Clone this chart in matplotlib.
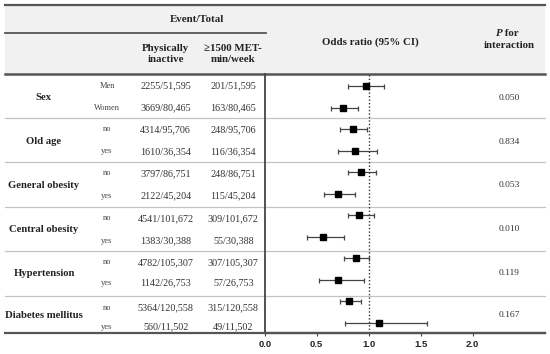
import numpy as np
import matplotlib
matplotlib.use("Agg")
import matplotlib.pyplot as plt

groups = ["Sex", "Old age", "General obesity", "Central obesity",
          "Hypertension", "Diabetes mellitus"]
subgroups = ["Men", "Women", "no", "yes", "no", "yes",
             "no", "yes", "no", "yes", "no", "yes"]
inactive = ["2255/51,595", "3669/80,465", "4314/95,706", "1610/36,354",
            "3797/86,751", "2122/45,204", "4541/101,672", "1383/30,388",
            "4782/105,307", "1142/26,753", "5364/120,558", "560/11,502"]
active = ["201/51,595", "163/80,465", "248/95,706", "116/36,354",
          "248/86,751", "115/45,204", "309/101,672", "55/30,388",
          "307/105,307", "57/26,753", "315/120,558", "49/11,502"]
odds = [0.97, 0.75, 0.85, 0.87, 0.93, 0.70, 0.91, 0.56, 0.88, 0.70, 0.81, 1.10]
ci_low = [0.80, 0.64, 0.72, 0.70, 0.80, 0.57, 0.80, 0.41, 0.76, 0.52, 0.72, 0.77]
ci_high = [1.15, 0.90, 0.98, 1.08, 1.07, 0.87, 1.05, 0.76, 1.00, 0.95, 0.93, 1.56]
p_int = ["0.050", "0.834", "0.053", "0.010", "0.119", "0.167"]
xticks = [0.0, 0.5, 1.0, 1.5, 2.0]

# layout in pixels (figure is 550 x 354)
W, H = 550, 354
sep_y = [74, 117.7, 162.3, 207, 251, 295.7, 333.3]
text_y = [86, 107.7, 129.3, 151.3, 173.3, 196, 218.3, 241, 262.3, 282.7, 307.7, 326.7]
group_y = [97.5, 141.7, 185.2, 229, 273.3, 315]
forest_y = 86 + 21.5 * np.arange(len(odds))
px_per_unit = 104
x0 = 264.7

serif = "Liberation Serif"
fig = plt.figure(figsize=(5.5, 3.54), dpi=100)
bg = fig.add_axes([0, 0, 1, 1])
bg.set_xlim(0, W)
bg.set_ylim(H, 0)
bg.axis("off")

# header
bg.fill_between([5, 545], 5, 74, color="#f1f1f1", lw=0)
bg.plot([5, 545], [5, 5], color="#555555", lw=1.6)
bg.plot([5, 266], [33, 33], color="#555555", lw=1.3)
bg.plot([5, 545], [74, 74], color="#555555", lw=1.8)
for y in sep_y[1:-1]:
    bg.plot([5, 545], [y, y], color="#c4c4c4", lw=0.9)
bg.plot([5, 545], [333.3, 333.3], color="#555555", lw=1.6)

hdr = dict(family=serif, fontweight="bold", fontsize=7.8, color="#222222",
           ha="center", va="center", linespacing=1.15)
bg.text(196.7, 20, "Event/Total", **hdr)
bg.text(165.7, 54, "Physically\ninactive", **hdr)
bg.text(233.3, 54, "\u22651500 MET-\nmin/week", **hdr)
bg.text(370, 41.7, "Odds ratio (95% CI)", **hdr)
bg.text(502.5, 33.5, "P", family=serif, fontweight="bold", fontstyle="italic",
        fontsize=7.8, color="#222222", ha="right", va="center")
bg.text(502.5, 33.5, " for", family=serif, fontweight="bold",
        fontsize=7.8, color="#222222", ha="left", va="center")
bg.text(509.3, 46, "interaction", **hdr)

for g, y in zip(groups, group_y):
    bg.text(44, y, g, family=serif, fontweight="bold", fontsize=7.7,
            color="#222222", ha="center", va="center")
for p, y in zip(p_int, group_y):
    bg.text(509.3, y, p, family=serif, fontsize=6.8, color="#333333",
            ha="center", va="center")
for s, a, b, y in zip(subgroups, inactive, active, text_y):
    bg.text(107, y, s, family=serif, fontsize=6.0, color="#444444",
            ha="center", va="center")
    bg.text(165.7, y, a, family=serif, fontsize=7.3, color="#333333",
            ha="center", va="center")
    bg.text(233.3, y, b, family=serif, fontsize=7.3, color="#333333",
            ha="center", va="center")

# forest plot
ax = fig.add_axes([x0 / W, (H - 333.3) / H, (545 - x0) / W, (333.3 - 74) / H])
ax.patch.set_alpha(0)
ax.set_xlim(0, (545 - x0) / px_per_unit)
ax.set_ylim(333.3, 74)
for side in ["top", "right"]:
    ax.spines[side].set_visible(False)
ax.spines["left"].set_color("#444444")
ax.spines["left"].set_linewidth(1.3)
ax.spines["bottom"].set_color("#555555")
ax.spines["bottom"].set_linewidth(1.6)
ax.axvline(1.0, color="#333333", lw=1.0, ls=(0, (1, 1.5)))
ax.errorbar(odds, forest_y,
            xerr=[np.array(odds) - np.array(ci_low), np.array(ci_high) - np.array(odds)],
            fmt="s", color="black", ecolor="#444444", elinewidth=0.9,
            capsize=1.8, capthick=0.9, markersize=4.2)
ax.set_yticks([])
ax.set_xticks(xticks)
ax.set_xticklabels([f"{t:.1f}" for t in xticks], fontfamily="Liberation Sans",
                   fontweight="bold", fontsize=6.8, color="#222222")
ax.tick_params(axis="x", length=2.5, width=0.8, color="#444444", pad=2)

fig.savefig("out.png", dpi=100)
